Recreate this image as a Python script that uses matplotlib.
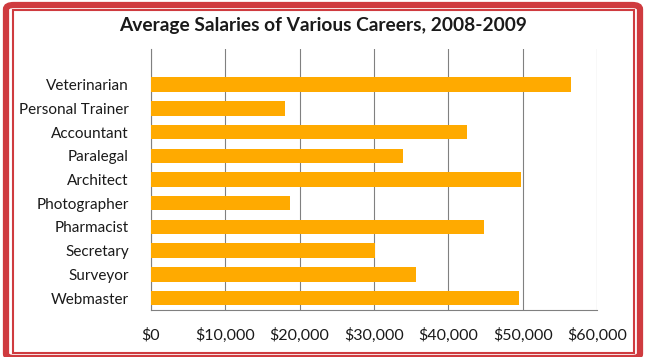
import matplotlib
matplotlib.use("Agg")
import matplotlib.pyplot as plt
from matplotlib.patches import FancyBboxPatch, Rectangle
from matplotlib.ticker import FuncFormatter

careers = ["Veterinarian", "Personal Trainer", "Accountant", "Paralegal", "Architect",
           "Photographer", "Pharmacist", "Secretary", "Surveyor", "Webmaster"]
salaries = [56500, 18000, 42500, 33900, 49800, 18700, 44800, 30200, 35700, 49500]
xticks = [0, 10000, 20000, 30000, 40000, 50000, 60000]
title = "Average Salaries of Various Careers, 2008-2009"

FONT = ["Lato", "DejaVu Sans"]
plt.rcParams['font.family'] = FONT

W, H = 655, 357
fig = plt.figure(figsize=(W / 100, H / 100), dpi=100)
fig.patch.set_facecolor("white")

# borders (pixel coordinates measured from top-left)
red = "#cf3b3f"
ox0, ox1, oy0, oy1 = 6, 640, 5, 358
outer = FancyBboxPatch((ox0 / W, 1 - oy1 / H), (ox1 - ox0) / W, (oy1 - oy0) / H,
                       boxstyle="round,pad=0,rounding_size=0.012",
                       transform=fig.transFigure, fill=False, edgecolor=red,
                       linewidth=4.5, clip_on=False)
fig.patches.append(outer)
ix0, ix1, iy0, iy1 = 13, 634, 10, 353
inner = Rectangle((ix0 / W, 1 - iy1 / H), (ix1 - ix0) / W, (iy1 - iy0) / H,
                  transform=fig.transFigure, fill=False, edgecolor=red,
                  linewidth=1.5)
fig.patches.append(inner)

left, right, top, bottom = 151, 597, 49, 310
ax = fig.add_axes([left / W, 1 - bottom / H, (right - left) / W, (bottom - top) / H])

n = len(careers)
pos = list(range(n - 1, -1, -1))
ax.barh(pos, salaries, height=0.61, color="#FFAA00", zorder=3)
ax.set_xlim(0, 60000)
ax.set_ylim(-0.5, n + 0.5)
ax.set_xticks(xticks)
ax.xaxis.set_major_formatter(FuncFormatter(lambda v, p: "${:,.0f}".format(v)))
ax.set_yticks(pos)
ax.set_yticklabels(careers)
ax.grid(axis="x", color="#808080", linewidth=0.8, zorder=0)
ax.tick_params(axis="both", length=0, labelsize=11, colors="#1a1a1a")
ax.tick_params(axis="x", pad=13, labelsize=11.5)
ax.tick_params(axis="y", pad=16)
for s in ["top", "right"]:
    ax.spines[s].set_visible(False)
for s in ["left", "bottom"]:
    ax.spines[s].set_color("#808080")
    ax.spines[s].set_linewidth(0.8)

fig.text(323.5 / W, 1 - 25 / H, title, ha="center", va="center",
         fontsize=13.8, fontweight="bold", color="#1a1a1a")

fig.savefig("out.png", dpi=100)
